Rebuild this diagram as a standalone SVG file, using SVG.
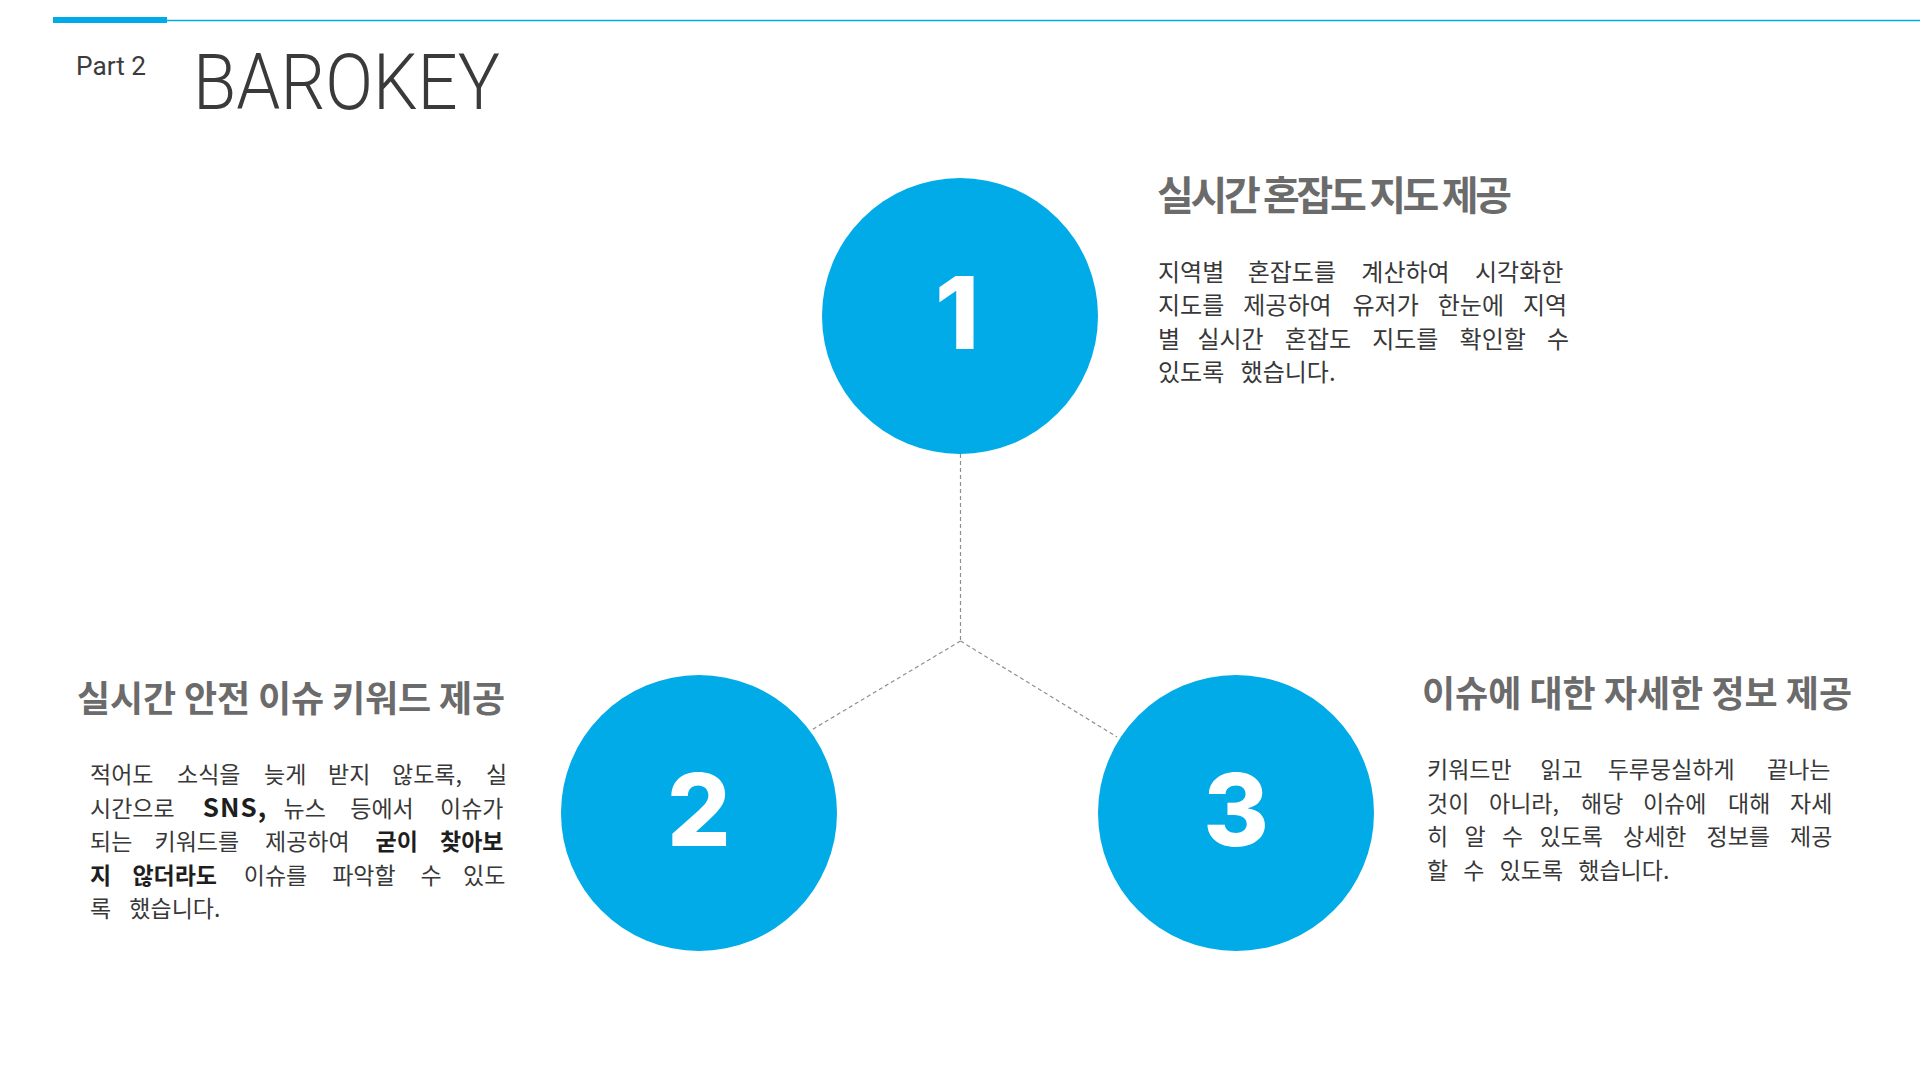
<svg xmlns="http://www.w3.org/2000/svg" width="1920" height="1080" viewBox="0 0 1920 1080">
<style>
.dot{fill:#00ABE8}
.num{font-family:Inter,"Noto Sans",sans-serif;font-weight:800;font-size:100px;fill:#ffffff;text-anchor:middle}
.title{font-family:"Noto Sans CJK KR","Noto Sans",sans-serif;font-weight:700;fill:#6b6b6b}
.body{font-family:"Noto Sans CJK KR","Noto Sans",sans-serif;font-weight:400;fill:#383838}
.b1{font-size:24px}
.b2{font-size:23px}
.em{font-weight:700;fill:#1e1e1e}
.conn{stroke:#8f8f8f;stroke-width:1.2;stroke-dasharray:4 3;fill:none}
</style>
<rect width="1920" height="1080" fill="#ffffff"/>
<g id="header">
<rect x="53" y="17" width="114" height="6" fill="#00ABE8"/>
<line x1="167" y1="20.5" x2="1920" y2="20.5" stroke="#00ABE8" stroke-width="1.5"/>
<text x="76" y="75" font-family="Roboto,'Noto Sans',sans-serif" font-weight="400" font-size="25" fill="#3c3c3c" textLength="70" lengthAdjust="spacingAndGlyphs">Part 2</text>
<text x="193" y="109" font-family="Roboto,'Noto Sans',sans-serif" font-weight="300" font-size="77" fill="#3a3a3a" textLength="307" lengthAdjust="spacingAndGlyphs">BAROKEY</text>
</g>
<g id="connectors">
<line class="conn" x1="960.5" y1="454" x2="960.5" y2="641"/>
<line class="conn" x1="960.5" y1="641" x2="811.5" y2="730"/>
<line class="conn" x1="960.5" y1="641" x2="1117" y2="737"/>
</g>
<g id="node-1">
<circle class="dot" cx="960" cy="316" r="138"/>
<text class="num" x="957" y="348.5">1</text>
<text class="title" x="1157" y="210" font-size="40" textLength="355" lengthAdjust="spacing">실시간 혼잡도 지도 제공</text>
<text class="body b1">
<tspan x="1158" y="280.5">지역별</tspan><tspan x="1247.67" y="280.5">혼잡도를</tspan><tspan x="1361.33" y="280.5">계산하여</tspan><tspan x="1475" y="280.5">시각화한</tspan>
<tspan x="1158" y="314">지도를</tspan><tspan x="1243.25" y="314">제공하여</tspan><tspan x="1352.5" y="314">유저가</tspan><tspan x="1437.75" y="314">한눈에</tspan><tspan x="1523" y="314">지역</tspan>
<tspan x="1158" y="347.5">별</tspan><tspan x="1197.4" y="347.5">실시간</tspan><tspan x="1284.8" y="347.5">혼잡도</tspan><tspan x="1372.2" y="347.5">지도를</tspan><tspan x="1459.6" y="347.5">확인할</tspan><tspan x="1547" y="347.5">수</tspan>
<tspan x="1158" y="381" word-spacing="11">있도록 했습니다.</tspan>
</text>
</g>
<g id="node-2">
<circle class="dot" cx="699" cy="813" r="138"/>
<text class="num" x="699" y="845.5">2</text>
<text class="title" x="77" y="712" font-size="36" textLength="428" lengthAdjust="spacing">실시간 안전 이슈 키워드 제공</text>
<text class="body b2">
<tspan x="90" y="783">적어도</tspan><tspan x="177" y="783">소식을</tspan><tspan x="264" y="783">늦게</tspan><tspan x="328" y="783">받지</tspan><tspan x="392" y="783">않도록,</tspan><tspan x="486" y="783">실</tspan>
<tspan x="90" y="816.5">시간으로</tspan><tspan x="202.75" y="816.5" class="em" font-size="26" letter-spacing="1">SNS,</tspan><tspan x="283.5" y="816.5">뉴스</tspan><tspan x="350.25" y="816.5">등에서</tspan><tspan x="440" y="816.5">이슈가</tspan>
<tspan x="90" y="850">되는</tspan><tspan x="154.5" y="850">키워드를</tspan><tspan x="265" y="850">제공하여</tspan><tspan x="375.5" y="850" class="em">굳이</tspan><tspan x="440" y="850" class="em">찾아보</tspan>
<tspan x="90" y="883.5" class="em">지</tspan><tspan x="132.4" y="883.5" class="em">않더라도</tspan><tspan x="243.8" y="883.5">이슈를</tspan><tspan x="332.2" y="883.5">파악할</tspan><tspan x="420.6" y="883.5">수</tspan><tspan x="463" y="883.5">있도</tspan>
<tspan x="90" y="917" word-spacing="13">록 했습니다.</tspan>
</text>
</g>
<g id="node-3">
<circle class="dot" cx="1236" cy="813" r="138"/>
<text class="num" x="1236" y="845.5">3</text>
<text class="title" x="1422" y="707" font-size="36" textLength="430" lengthAdjust="spacing">이슈에 대한 자세한 정보 제공</text>
<text class="body b2">
<tspan x="1427" y="778">키워드만</tspan><tspan x="1540.33" y="778">읽고</tspan><tspan x="1607.67" y="778">두루뭉실하게</tspan><tspan x="1767" y="778">끝나는</tspan>
<tspan x="1427" y="811.5">것이</tspan><tspan x="1489" y="811.5">아니라,</tspan><tspan x="1581" y="811.5">해당</tspan><tspan x="1643" y="811.5">이슈에</tspan><tspan x="1728" y="811.5">대해</tspan><tspan x="1790" y="811.5">자세</tspan>
<tspan x="1427" y="845">히</tspan><tspan x="1464.5" y="845">알</tspan><tspan x="1502" y="845">수</tspan><tspan x="1539.5" y="845">있도록</tspan><tspan x="1623" y="845">상세한</tspan><tspan x="1706.5" y="845">정보를</tspan><tspan x="1790" y="845">제공</tspan>
<tspan x="1427" y="878.5" word-spacing="10">할 수 있도록 했습니다.</tspan>
</text>
</g>
</svg>
